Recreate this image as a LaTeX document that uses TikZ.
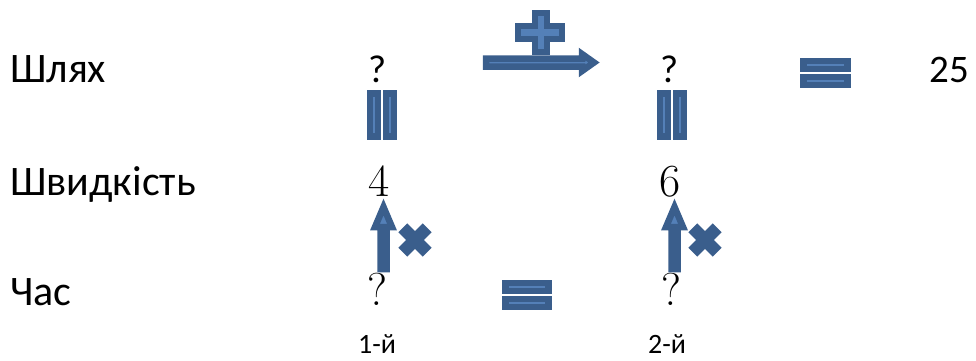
\documentclass[tikz,border=0pt]{standalone}
\usepackage{fontspec}
\setsansfont{Carlito}
\definecolor{signdark}{RGB}{58,94,140}
\definecolor{signlight}{RGB}{84,128,184}
\usetikzlibrary{positioning}

\begin{document}
\begin{tikzpicture}[x=1pt,y=-1pt,
        row/.style={anchor=base west, inner sep=0pt, font=\sffamily\fontsize{42}{42}\selectfont},
        val/.style={anchor=base, inner sep=0pt, font=\fontsize{46}{46}\selectfont},
        qs/.style={anchor=base, inner sep=0pt, font=\sffamily\fontsize{39}{39}\selectfont},
        tag/.style={anchor=base, inner sep=0pt, font=\sffamily\fontsize{28}{28}\selectfont},
        sign/.style={draw=signdark, fill=signlight, line width=6.5pt, line join=miter}
      ]
      \useasboundingbox (0,0) rectangle (976,360);

      \node[row] (path) at (10,82) {Шлях};
      \node[row] (speed) at (10,195) {Швидкість};
      \node[row] (time) at (10,305) {Час};

      \node[qs] (s1) at (378,82) {?};
      \node[qs] (s2) at (670,82) {?};
      \node[qs] (total) at (949,82) {25};
      \node[val] (v1) at (379,196) {4};
      \node[val] (v2) at (670,196) {6};
      \node[val] (t1) at (377,305) {?};
      \node[val] (t2) at (671,305) {?};
      \node[tag] (n1) at (377,353) {1-й};
      \node[tag] (n2) at (667,353) {2-й};

      % sum of both paths
      \draw[sign] (486,58.5) -- (582,58.5) -- (582,54) -- (594,62.5) -- (582,71) -- (582,66.5) -- (486,66.5) -- cycle;
      \draw[sign] (535,13) -- (547,13) -- (547,26) -- (562,26) -- (562,39) -- (547,39) -- (547,52) -- (535,52) -- (535,39) -- (518,39) -- (518,26) -- (535,26) -- cycle;

      % path equals the unknown of each row
      \foreach \x in {367,657} {
        \draw[sign] (\x+3,93.5) rectangle (\x+11,136.5);
        \draw[sign] (\x+19,93.5) rectangle (\x+27,136.5);
      }
      \draw[sign] (803.5,61) rectangle (847.5,69);
      \draw[sign] (803.5,77) rectangle (847.5,85);
      \draw[sign] (505.5,283) rectangle (548.5,291);
      \draw[sign] (505.5,299) rectangle (548.5,307);

      % time times speed
      \foreach \x/\m in {383.5/415, 674.5/705} {
        \draw[sign] (\x-3,269) -- (\x-3,227) -- (\x-8.5,227) -- (\x,207) -- (\x+8.5,227) -- (\x+3,227) -- (\x+3,269) -- cycle;
        \draw[sign, shift={(\m,240)}, rotate=45] (-3,-14) -- (3,-14) -- (3,-3) -- (14,-3) -- (14,3) -- (3,3) -- (3,14) -- (-3,14) -- (-3,3) -- (-14,3) -- (-14,-3) -- (-3,-3) -- cycle;
      }
    \end{tikzpicture}
\end{document}
